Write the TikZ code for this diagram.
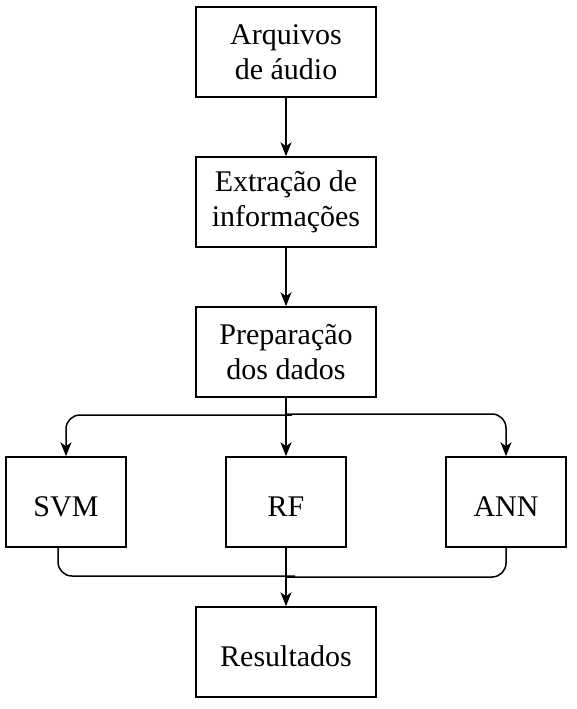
\documentclass[tikz,border=0pt]{standalone}
\usepackage{fontspec}
\setmainfont{Liberation Serif}
\usetikzlibrary{arrows.meta}
\begin{document}
\begin{tikzpicture}[x=1pt,y=-1pt]
		\tikzset{box/.style = {shape=rectangle,draw,line width=1.5pt,minimum width=180pt,minimum height=90pt,align=center,inner sep=0pt,font=\fontsize{30}{35}\selectfont}}
		\tikzset{smallbox/.style = {box,minimum width=120pt}}
		\tikzset{oneline/.style = {text height=29pt,text depth=0pt}}
		\tikzset{edge/.style = {-{Stealth[length=14pt,width=11pt,inset=4pt]},line width=1.5pt}}
		\tikzset{line/.style = {line width=1.5pt,rounded corners=14pt}}
		\useasboundingbox (0,0) rectangle (577,709);
		\node[box] (audio) at (286,52) {Arquivos\\de áudio};
		\node[box] (extr) at (286,202) {Extração de\\informações};
		\node[box] (prep) at (286,352) {Preparação\\dos dados};
		\node[smallbox,oneline] (svm) at (66,502) {SVM};
		\node[smallbox,oneline] (rf) at (286,502) {RF};
		\node[smallbox,oneline] (ann) at (506,502) {ANN};
		\node[box,oneline] (res) at (286,652) {Resultados};
		\coordinate (split) at (286,415);
		\coordinate (join) at (286,576);
		\draw[edge] (audio) -- (extr);
		\draw[edge] (extr) -- (prep);
		\draw[edge] (prep) -- (rf);
		\draw[edge,rounded corners=14pt] ([xshift=6pt]split) -| (svm.north);
		\draw[edge,rounded corners=14pt] ([yshift=1pt]split) -| (ann.north);
		\draw[line] ([xshift=-8pt]svm.south) |- ([xshift=9pt]join);
		\draw[line] (ann.south) |- ([yshift=-1pt]join);
		\draw[edge] (rf) -- (res);
	\end{tikzpicture}
\end{document}
